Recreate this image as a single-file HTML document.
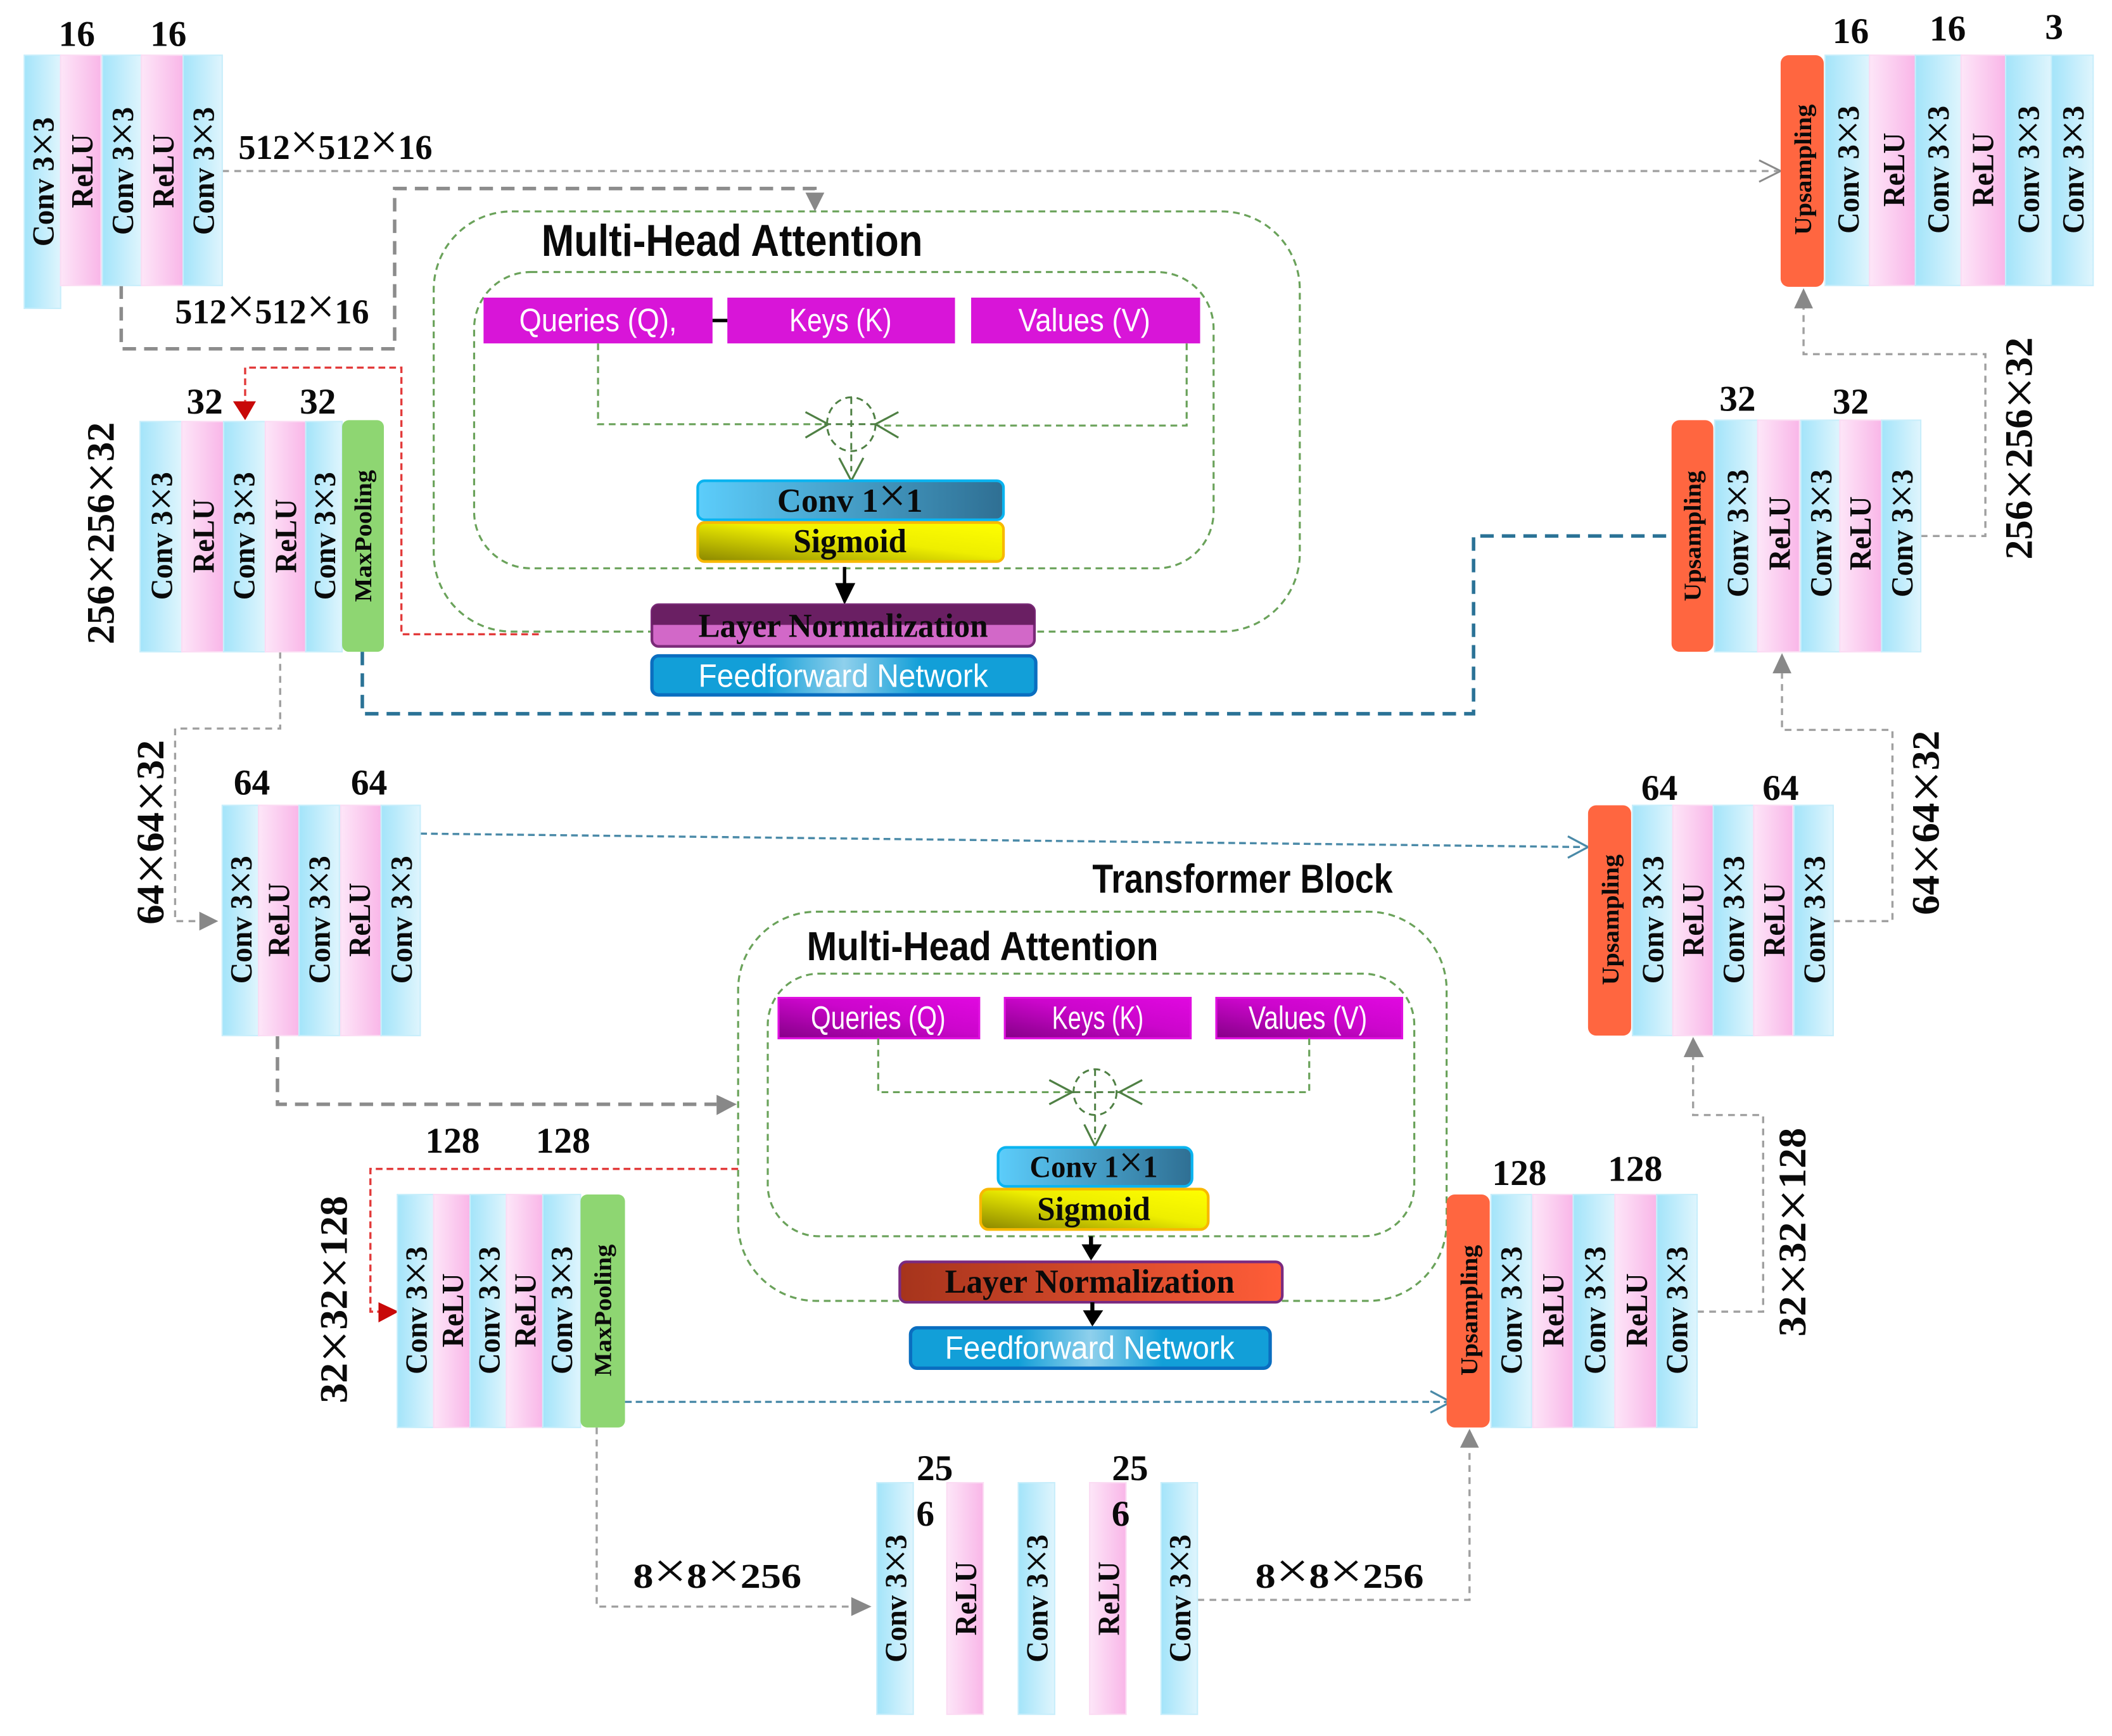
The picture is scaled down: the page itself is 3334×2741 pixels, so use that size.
<!DOCTYPE html>
<html><head><meta charset="utf-8"><style>
html,body{margin:0;padding:0;background:#fff}
svg{display:block}
text{fill:#0a0a0a}
.s{font:bold 23px "Liberation Serif",serif;text-anchor:middle;dominant-baseline:central}
.m{font:bold 18px "Liberation Serif",serif;text-anchor:middle;dominant-baseline:central}
.n{font:bold 27px "Liberation Serif",serif;text-anchor:middle}
.d{font:bold 26px "Liberation Serif",serif}
.r{font:bold 29px "Liberation Serif",serif;text-anchor:middle;dominant-baseline:central}
.t{font:bold 33px "Liberation Sans",sans-serif}
.w{font:24px "Liberation Sans",sans-serif;text-anchor:middle;fill:#fff}
.b{font:bold 25px "Liberation Serif",serif;text-anchor:middle}
.x{font-weight:normal;font-size:1.45em}
.cv{fill:url(#cv);stroke:#c8eefb;stroke-width:1}
.re{fill:url(#re);stroke:#fbdcf3;stroke-width:1}
.mp{fill:#8ed672}
.up{fill:#ff6640}
.ln{fill:none}
.g1{stroke:#a0a0a0;stroke-width:1.6;stroke-dasharray:5 4}
.g2{stroke:#8c8c8c;stroke-width:2.6;stroke-dasharray:10 6}
.rd{stroke:#e23a3a;stroke-width:1.6;stroke-dasharray:5 3}
.bl{stroke:#2a7296;stroke-width:2.6;stroke-dasharray:10 6}
.bt{stroke:#4a8aa8;stroke-width:1.6;stroke-dasharray:5 3}
.gr{stroke:#6aa25a;stroke-width:1.5;stroke-dasharray:5 3.5}
.gt{stroke:#4f8044;stroke-width:1.4;stroke-dasharray:5 3.5}
.oa{fill:none;stroke:#4f8044;stroke-width:1.5}
</style></head><body>
<svg xmlns="http://www.w3.org/2000/svg" width="3334" height="2741" viewBox="0 0 1568 1289.1">
<defs>
<linearGradient id="cv"><stop offset="0" stop-color="#a3e4fa"/><stop offset="1" stop-color="#dff5fd"/></linearGradient>
<linearGradient id="re"><stop offset="0" stop-color="#fde6f8"/><stop offset="1" stop-color="#f9b6e8"/></linearGradient>
<linearGradient id="c1"><stop offset="0" stop-color="#5ccdfb"/><stop offset="1" stop-color="#2f6f93"/></linearGradient>
<linearGradient id="sg" x1="0" y1="1" x2="1" y2="0"><stop offset="0" stop-color="#8a8600"/><stop offset=".55" stop-color="#eeee00"/><stop offset="1" stop-color="#ffff00"/></linearGradient>
<linearGradient id="lr"><stop offset="0" stop-color="#a6341c"/><stop offset="1" stop-color="#ff5d38"/></linearGradient>
<linearGradient id="ff"><stop offset="0" stop-color="#129fd8"/><stop offset=".3" stop-color="#129fd8"/><stop offset=".5" stop-color="#8fd0ec"/><stop offset=".7" stop-color="#129fd8"/><stop offset="1" stop-color="#129fd8"/></linearGradient>
<linearGradient id="qk" x1="0" y1="1" x2="1" y2="0"><stop offset="0" stop-color="#860088"/><stop offset=".55" stop-color="#cc06cc"/><stop offset="1" stop-color="#e008e0"/></linearGradient>
</defs>

<!-- Attention block 1 -->
<rect class="ln gr" x="322" y="157" width="643" height="312" rx="58"/>
<rect class="ln gr" x="352" y="202" width="549" height="220" rx="42"/>
<rect x="359" y="221" width="170" height="34" fill="#d815d8"/>
<rect x="540" y="221" width="169" height="34" fill="#d815d8"/>
<rect x="721" y="221" width="170" height="34" fill="#d815d8"/>
<line x1="529" y1="238" x2="540" y2="238" stroke="#000" stroke-width="2.5"/>
<text class="w" x="444" y="246" textLength="117" lengthAdjust="spacingAndGlyphs">Queries (Q),</text>
<text class="w" x="624" y="246" textLength="76" lengthAdjust="spacingAndGlyphs">Keys (K)</text>
<text class="w" x="805" y="246" textLength="98" lengthAdjust="spacingAndGlyphs">Values (V)</text>
<text class="t" x="402" y="190" textLength="283" lengthAdjust="spacingAndGlyphs">Multi-Head Attention</text>
<path class="ln gr" d="M444 255V315H612M881 255V316H652"/>
<ellipse class="ln gt" cx="632" cy="315" rx="18" ry="20"/>
<path class="ln gt" d="M632 295V350"/>
<path class="ln gt" d="M612 315H652"/>
<path class="oa" d="M598 306L615 315L598 325M667 306L650 315L667 325M623 340L632 357L641 340"/>
<rect x="518" y="357" width="227" height="29" rx="5" fill="url(#c1)" stroke="#0ab4f0" stroke-width="2"/>
<rect x="518" y="388" width="227" height="29" rx="5" fill="url(#sg)" stroke="#f8b800" stroke-width="2"/>
<text class="b" x="631" y="380" textLength="108" lengthAdjust="spacingAndGlyphs">Conv 1<tspan class="x">×</tspan>1</text>
<text class="b" x="631" y="410" textLength="84" lengthAdjust="spacingAndGlyphs">Sigmoid</text>
<path d="M627 421V434" stroke="#000" stroke-width="2.5"/><path d="M620 433H635L627 449Z"/>
<rect x="484" y="449" width="284" height="31" rx="5" fill="#d268c8" stroke="#7a2a78" stroke-width="2"/>
<path d="M484 464V454a5 5 0 0 1 5-5H763a5 5 0 0 1 5 5V464Z" fill="#6a1f63"/>
<text class="b" x="626" y="473" textLength="215" lengthAdjust="spacingAndGlyphs">Layer Normalization</text>
<rect x="484" y="487" width="285" height="29" rx="5" fill="url(#ff)" stroke="#0a6ec0" stroke-width="2.5"/>
<text class="w" x="626" y="510" textLength="215" lengthAdjust="spacingAndGlyphs">Feedforward Network</text>

<!-- Attention block 2 -->
<rect class="ln gr" x="548" y="677" width="526" height="289" rx="58"/>
<rect class="ln gr" x="570" y="723" width="480" height="195" rx="38"/>
<rect x="578" y="741" width="149" height="30" fill="url(#qk)" stroke="#e010e0" stroke-width="1.5"/>
<rect x="746" y="741" width="138" height="30" fill="url(#qk)" stroke="#e010e0" stroke-width="1.5"/>
<rect x="903" y="741" width="138" height="30" fill="url(#qk)" stroke="#e010e0" stroke-width="1.5"/>
<text class="w" x="652" y="764" textLength="100" lengthAdjust="spacingAndGlyphs">Queries (Q)</text>
<text class="w" x="815" y="764" textLength="68" lengthAdjust="spacingAndGlyphs">Keys (K)</text>
<text class="w" x="971" y="764" textLength="88" lengthAdjust="spacingAndGlyphs">Values (V)</text>
<text class="t" x="599" y="713" textLength="261" lengthAdjust="spacingAndGlyphs" style="font-size:30px">Multi-Head Attention</text>
<text class="t" x="811" y="663" textLength="223" lengthAdjust="spacingAndGlyphs" style="font-size:30px">Transformer Block</text>
<path class="ln gr" d="M652 771V811H797M972 771V811H829"/>
<ellipse class="ln gt" cx="813" cy="811" rx="16" ry="17"/>
<path class="ln gt" d="M813 794V846M797 811H829"/>
<path class="oa" d="M779 802L796 811L779 820M848 802L831 811L848 820M805 835L813 851L821 835"/>
<rect x="741" y="852" width="144" height="29" rx="6" fill="url(#c1)" stroke="#0ab4f0" stroke-width="2"/>
<rect x="728" y="883" width="169" height="30" rx="6" fill="url(#sg)" stroke="#f8b800" stroke-width="2"/>
<text class="b" x="812" y="874" textLength="95" lengthAdjust="spacingAndGlyphs" style="font-size:23px">Conv 1<tspan class="x">×</tspan>1</text>
<text class="b" x="812" y="906" textLength="84" lengthAdjust="spacingAndGlyphs">Sigmoid</text>
<path d="M810 918V926" stroke="#000" stroke-width="3"/><path d="M803 924H818L810 936Z"/>
<rect x="668" y="937" width="284" height="30" rx="5" fill="url(#lr)" stroke="#7a2a80" stroke-width="2"/>
<text class="b" x="809" y="960" textLength="215" lengthAdjust="spacingAndGlyphs">Layer Normalization</text>
<path d="M811 967V975" stroke="#000" stroke-width="3"/><path d="M804 973H819L811 985Z"/>
<rect x="676" y="986" width="267" height="30" rx="5" fill="url(#ff)" stroke="#0a6ec0" stroke-width="2.5"/>
<text class="w" x="809" y="1009" textLength="215" lengthAdjust="spacingAndGlyphs">Feedforward Network</text>

<!-- connectors -->
<path class="ln g1" d="M165 127H1320"/>
<path d="M1306 119L1322 127L1306 135" fill="none" stroke="#8a8a8a" stroke-width="1.4"/>
<path class="ln g2" d="M90 212V259H293V140H605V146"/>
<path d="M598 143H612L605 157Z" fill="#888"/>
<path class="ln rd" d="M400 471H298V273H182V298"/>
<path d="M173 298H190L182 312Z" fill="#c80808"/>
<path class="ln g1" d="M208 484V541H130V684H148"/>
<path d="M148 677L162 684L148 691Z" fill="#888"/>
<path class="ln bl" d="M269 484V530H1094V398H1241"/>
<path class="ln bt" d="M312 619L1176 629"/>
<path d="M1164 621L1179 629L1164 637" fill="none" stroke="#4a8aa8" stroke-width="1.5"/>
<path class="ln g2" d="M206 769V820H532"/>
<path d="M532 813L547 820L532 828Z" fill="#888"/>
<path class="ln rd" d="M548 868H275V974H282"/>
<path d="M281 967L296 974L281 982Z" fill="#c80808"/>
<path class="ln bt" d="M464 1041H1074"/>
<path d="M1062 1033L1077 1041L1062 1049" fill="none" stroke="#4a8aa8" stroke-width="1.5"/>
<path class="ln g1" d="M443 1060V1193H633"/>
<path d="M632 1186L647 1193L632 1200Z" fill="#888"/>
<path class="ln g1" d="M889 1188H1091V1075"/>
<path d="M1084 1075H1098L1091 1061Z" fill="#888"/>
<path class="ln g1" d="M1260 974H1309V828H1257V785"/>
<path d="M1250 785H1265L1257 770Z" fill="#888"/>
<path class="ln g1" d="M1361 684H1405V542H1323V500"/>
<path d="M1316 500H1330L1323 485Z" fill="#888"/>
<path class="ln g1" d="M1426 398H1474V263H1339V228"/>
<path d="M1332 229H1346L1339 214Z" fill="#888"/>

<!-- Block A -->
<rect class="cv" x="18" y="41" width="27" height="188"/><rect class="re" x="45" y="41" width="30" height="171"/><rect class="cv" x="76" y="41" width="29" height="171"/><rect class="re" x="105" y="41" width="31" height="171"/><rect class="cv" x="136" y="41" width="29" height="171"/>
<text class="s" transform="translate(32,135) rotate(-90)" textLength="96" lengthAdjust="spacingAndGlyphs">Conv 3<tspan class="x">×</tspan>3</text>
<text class="s" transform="translate(61,127) rotate(-90)" textLength="55" lengthAdjust="spacingAndGlyphs">ReLU</text>
<text class="s" transform="translate(91,127) rotate(-90)" textLength="95" lengthAdjust="spacingAndGlyphs">Conv 3<tspan class="x">×</tspan>3</text>
<text class="s" transform="translate(121,127) rotate(-90)" textLength="55" lengthAdjust="spacingAndGlyphs">ReLU</text>
<text class="s" transform="translate(151,127) rotate(-90)" textLength="95" lengthAdjust="spacingAndGlyphs">Conv 3<tspan class="x">×</tspan>3</text>

<!-- Block B -->
<rect class="cv" x="104" y="313" width="31" height="171"/><rect class="re" x="135" y="313" width="31" height="171"/><rect class="cv" x="166" y="313" width="31" height="171"/><rect class="re" x="197" y="313" width="30" height="171"/><rect class="cv" x="227" y="313" width="27" height="171"/>
<rect class="mp" x="254" y="312" width="31" height="172" rx="5"/>
<text class="s" transform="translate(120,398) rotate(-90)" textLength="95" lengthAdjust="spacingAndGlyphs">Conv 3<tspan class="x">×</tspan>3</text>
<text class="s" transform="translate(151,398) rotate(-90)" textLength="55" lengthAdjust="spacingAndGlyphs">ReLU</text>
<text class="s" transform="translate(181,398) rotate(-90)" textLength="95" lengthAdjust="spacingAndGlyphs">Conv 3<tspan class="x">×</tspan>3</text>
<text class="s" transform="translate(212,398) rotate(-90)" textLength="55" lengthAdjust="spacingAndGlyphs">ReLU</text>
<text class="s" transform="translate(241,398) rotate(-90)" textLength="95" lengthAdjust="spacingAndGlyphs">Conv 3<tspan class="x">×</tspan>3</text>
<text class="m" transform="translate(270,398) rotate(-90)" textLength="98" lengthAdjust="spacingAndGlyphs">MaxPooling</text>

<!-- Block C -->
<rect class="cv" x="165" y="598" width="27" height="171"/><rect class="re" x="192" y="598" width="30" height="171"/><rect class="cv" x="222" y="598" width="30" height="171"/><rect class="re" x="253" y="598" width="30" height="171"/><rect class="cv" x="283" y="598" width="29" height="171"/>
<text class="s" transform="translate(179,683) rotate(-90)" textLength="95" lengthAdjust="spacingAndGlyphs">Conv 3<tspan class="x">×</tspan>3</text>
<text class="s" transform="translate(207,683) rotate(-90)" textLength="55" lengthAdjust="spacingAndGlyphs">ReLU</text>
<text class="s" transform="translate(237,683) rotate(-90)" textLength="95" lengthAdjust="spacingAndGlyphs">Conv 3<tspan class="x">×</tspan>3</text>
<text class="s" transform="translate(267,683) rotate(-90)" textLength="55" lengthAdjust="spacingAndGlyphs">ReLU</text>
<text class="s" transform="translate(298,683) rotate(-90)" textLength="95" lengthAdjust="spacingAndGlyphs">Conv 3<tspan class="x">×</tspan>3</text>

<!-- Block D -->
<rect class="cv" x="295" y="887" width="27" height="173"/><rect class="re" x="322" y="887" width="27" height="173"/><rect class="cv" x="349" y="887" width="27" height="173"/><rect class="re" x="376" y="887" width="27" height="173"/><rect class="cv" x="403" y="887" width="28" height="173"/>
<rect class="mp" x="431" y="887" width="33" height="173" rx="5"/>
<text class="s" transform="translate(309,973) rotate(-90)" textLength="95" lengthAdjust="spacingAndGlyphs">Conv 3<tspan class="x">×</tspan>3</text>
<text class="s" transform="translate(336,973) rotate(-90)" textLength="55" lengthAdjust="spacingAndGlyphs">ReLU</text>
<text class="s" transform="translate(363,973) rotate(-90)" textLength="95" lengthAdjust="spacingAndGlyphs">Conv 3<tspan class="x">×</tspan>3</text>
<text class="s" transform="translate(390,973) rotate(-90)" textLength="55" lengthAdjust="spacingAndGlyphs">ReLU</text>
<text class="s" transform="translate(417,973) rotate(-90)" textLength="95" lengthAdjust="spacingAndGlyphs">Conv 3<tspan class="x">×</tspan>3</text>
<text class="m" transform="translate(448,973) rotate(-90)" textLength="98" lengthAdjust="spacingAndGlyphs">MaxPooling</text>

<!-- Block E -->
<rect class="cv" x="651" y="1101" width="27" height="172"/><rect class="re" x="703" y="1101" width="27" height="172"/><rect class="cv" x="756" y="1101" width="27" height="172"/><rect class="re" x="809" y="1101" width="27" height="172"/><rect class="cv" x="862" y="1101" width="27" height="172"/>
<text class="s" transform="translate(665,1187) rotate(-90)" textLength="95" lengthAdjust="spacingAndGlyphs">Conv 3<tspan class="x">×</tspan>3</text>
<text class="s" transform="translate(717,1187) rotate(-90)" textLength="55" lengthAdjust="spacingAndGlyphs">ReLU</text>
<text class="s" transform="translate(770,1187) rotate(-90)" textLength="95" lengthAdjust="spacingAndGlyphs">Conv 3<tspan class="x">×</tspan>3</text>
<text class="s" transform="translate(823,1187) rotate(-90)" textLength="55" lengthAdjust="spacingAndGlyphs">ReLU</text>
<text class="s" transform="translate(876,1187) rotate(-90)" textLength="95" lengthAdjust="spacingAndGlyphs">Conv 3<tspan class="x">×</tspan>3</text>

<!-- R1 -->
<rect class="cv" x="1355" y="41" width="33" height="171"/><rect class="re" x="1388" y="41" width="34" height="171"/><rect class="cv" x="1422" y="41" width="34" height="171"/><rect class="re" x="1456" y="41" width="33" height="171"/><rect class="cv" x="1489" y="41" width="34" height="171"/><rect class="cv" x="1523" y="41" width="31" height="171"/>
<rect class="up" x="1322" y="41" width="32" height="172" rx="6"/>
<text class="m" transform="translate(1339,126) rotate(-90)" textLength="97" lengthAdjust="spacingAndGlyphs">Upsampling</text>
<text class="s" transform="translate(1372,126) rotate(-90)" textLength="95" lengthAdjust="spacingAndGlyphs">Conv 3<tspan class="x">×</tspan>3</text>
<text class="s" transform="translate(1406,126) rotate(-90)" textLength="55" lengthAdjust="spacingAndGlyphs">ReLU</text>
<text class="s" transform="translate(1439,126) rotate(-90)" textLength="95" lengthAdjust="spacingAndGlyphs">Conv 3<tspan class="x">×</tspan>3</text>
<text class="s" transform="translate(1472,126) rotate(-90)" textLength="55" lengthAdjust="spacingAndGlyphs">ReLU</text>
<text class="s" transform="translate(1506,126) rotate(-90)" textLength="95" lengthAdjust="spacingAndGlyphs">Conv 3<tspan class="x">×</tspan>3</text>
<text class="s" transform="translate(1539,126) rotate(-90)" textLength="95" lengthAdjust="spacingAndGlyphs">Conv 3<tspan class="x">×</tspan>3</text>

<!-- R2 -->
<rect class="cv" x="1273" y="312" width="32" height="172"/><rect class="re" x="1305" y="312" width="31" height="172"/><rect class="cv" x="1337" y="312" width="29" height="172"/><rect class="re" x="1366" y="312" width="31" height="172"/><rect class="cv" x="1397" y="312" width="29" height="172"/>
<rect class="up" x="1241" y="312" width="31" height="172" rx="6"/>
<text class="m" transform="translate(1257,398) rotate(-90)" textLength="97" lengthAdjust="spacingAndGlyphs">Upsampling</text>
<text class="s" transform="translate(1290,396) rotate(-90)" textLength="95" lengthAdjust="spacingAndGlyphs">Conv 3<tspan class="x">×</tspan>3</text>
<text class="s" transform="translate(1321,396) rotate(-90)" textLength="55" lengthAdjust="spacingAndGlyphs">ReLU</text>
<text class="s" transform="translate(1352,396) rotate(-90)" textLength="95" lengthAdjust="spacingAndGlyphs">Conv 3<tspan class="x">×</tspan>3</text>
<text class="s" transform="translate(1381,396) rotate(-90)" textLength="55" lengthAdjust="spacingAndGlyphs">ReLU</text>
<text class="s" transform="translate(1412,396) rotate(-90)" textLength="95" lengthAdjust="spacingAndGlyphs">Conv 3<tspan class="x">×</tspan>3</text>

<!-- R3 -->
<rect class="cv" x="1212" y="598" width="30" height="171"/><rect class="re" x="1242" y="598" width="30" height="171"/><rect class="cv" x="1272" y="598" width="30" height="171"/><rect class="re" x="1302" y="598" width="29" height="171"/><rect class="cv" x="1332" y="598" width="29" height="171"/>
<rect class="up" x="1179" y="598" width="32" height="171" rx="6"/>
<text class="m" transform="translate(1196,683) rotate(-90)" textLength="97" lengthAdjust="spacingAndGlyphs">Upsampling</text>
<text class="s" transform="translate(1227,683) rotate(-90)" textLength="95" lengthAdjust="spacingAndGlyphs">Conv 3<tspan class="x">×</tspan>3</text>
<text class="s" transform="translate(1257,683) rotate(-90)" textLength="55" lengthAdjust="spacingAndGlyphs">ReLU</text>
<text class="s" transform="translate(1287,683) rotate(-90)" textLength="95" lengthAdjust="spacingAndGlyphs">Conv 3<tspan class="x">×</tspan>3</text>
<text class="s" transform="translate(1317,683) rotate(-90)" textLength="55" lengthAdjust="spacingAndGlyphs">ReLU</text>
<text class="s" transform="translate(1347,683) rotate(-90)" textLength="95" lengthAdjust="spacingAndGlyphs">Conv 3<tspan class="x">×</tspan>3</text>

<!-- R4 -->
<rect class="cv" x="1107" y="887" width="30" height="173"/><rect class="re" x="1138" y="887" width="30" height="173"/><rect class="cv" x="1168" y="887" width="31" height="173"/><rect class="re" x="1199" y="887" width="31" height="173"/><rect class="cv" x="1230" y="887" width="30" height="173"/>
<rect class="up" x="1074" y="887" width="32" height="173" rx="6"/>
<text class="m" transform="translate(1091,973) rotate(-90)" textLength="97" lengthAdjust="spacingAndGlyphs">Upsampling</text>
<text class="s" transform="translate(1122,973) rotate(-90)" textLength="95" lengthAdjust="spacingAndGlyphs">Conv 3<tspan class="x">×</tspan>3</text>
<text class="s" transform="translate(1153,973) rotate(-90)" textLength="55" lengthAdjust="spacingAndGlyphs">ReLU</text>
<text class="s" transform="translate(1184,973) rotate(-90)" textLength="95" lengthAdjust="spacingAndGlyphs">Conv 3<tspan class="x">×</tspan>3</text>
<text class="s" transform="translate(1215,973) rotate(-90)" textLength="55" lengthAdjust="spacingAndGlyphs">ReLU</text>
<text class="s" transform="translate(1245,973) rotate(-90)" textLength="95" lengthAdjust="spacingAndGlyphs">Conv 3<tspan class="x">×</tspan>3</text>

<!-- numbers -->
<text class="n" x="57" y="34">16</text><text class="n" x="125" y="34">16</text>
<text class="n" x="152" y="307">32</text><text class="n" x="236" y="307">32</text>
<text class="n" x="187" y="590">64</text><text class="n" x="274" y="590">64</text>
<text class="n" x="336" y="856">128</text><text class="n" x="418" y="856">128</text>
<text class="n" x="694" y="1099">25</text><text class="n" x="687" y="1133">6</text>
<text class="n" x="839" y="1099">25</text><text class="n" x="832" y="1133">6</text>
<text class="n" x="1374" y="32">16</text><text class="n" x="1446" y="30">16</text><text class="n" x="1525" y="29">3</text>
<text class="n" x="1290" y="305">32</text><text class="n" x="1374" y="307">32</text>
<text class="n" x="1232" y="594">64</text><text class="n" x="1322" y="594">64</text>
<text class="n" x="1128" y="880">128</text><text class="n" x="1214" y="877">128</text>

<!-- dimensions -->
<text class="d" x="177" y="118" textLength="144" lengthAdjust="spacingAndGlyphs">512<tspan class="x">×</tspan>512<tspan class="x">×</tspan>16</text>
<text class="d" x="130" y="240" textLength="144" lengthAdjust="spacingAndGlyphs">512<tspan class="x">×</tspan>512<tspan class="x">×</tspan>16</text>
<text class="d" x="470" y="1179" textLength="125" lengthAdjust="spacingAndGlyphs">8<tspan class="x">×</tspan>8<tspan class="x">×</tspan>256</text>
<text class="d" x="932" y="1179" textLength="125" lengthAdjust="spacingAndGlyphs">8<tspan class="x">×</tspan>8<tspan class="x">×</tspan>256</text>
<text class="r" transform="translate(75,396) rotate(-90)" textLength="165" lengthAdjust="spacingAndGlyphs">256<tspan class="x">×</tspan>256<tspan class="x">×</tspan>32</text>
<text class="r" transform="translate(112,618) rotate(-90)" textLength="137" lengthAdjust="spacingAndGlyphs">64<tspan class="x">×</tspan>64<tspan class="x">×</tspan>32</text>
<text class="r" transform="translate(248,965) rotate(-90)" textLength="154" lengthAdjust="spacingAndGlyphs">32<tspan class="x">×</tspan>32<tspan class="x">×</tspan>128</text>
<text class="r" transform="translate(1499,333) rotate(-90)" textLength="165" lengthAdjust="spacingAndGlyphs">256<tspan class="x">×</tspan>256<tspan class="x">×</tspan>32</text>
<text class="r" transform="translate(1430,611) rotate(-90)" textLength="137" lengthAdjust="spacingAndGlyphs">64<tspan class="x">×</tspan>64<tspan class="x">×</tspan>32</text>
<text class="r" transform="translate(1331,915) rotate(-90)" textLength="155" lengthAdjust="spacingAndGlyphs">32<tspan class="x">×</tspan>32<tspan class="x">×</tspan>128</text>
</svg>
</body></html>
